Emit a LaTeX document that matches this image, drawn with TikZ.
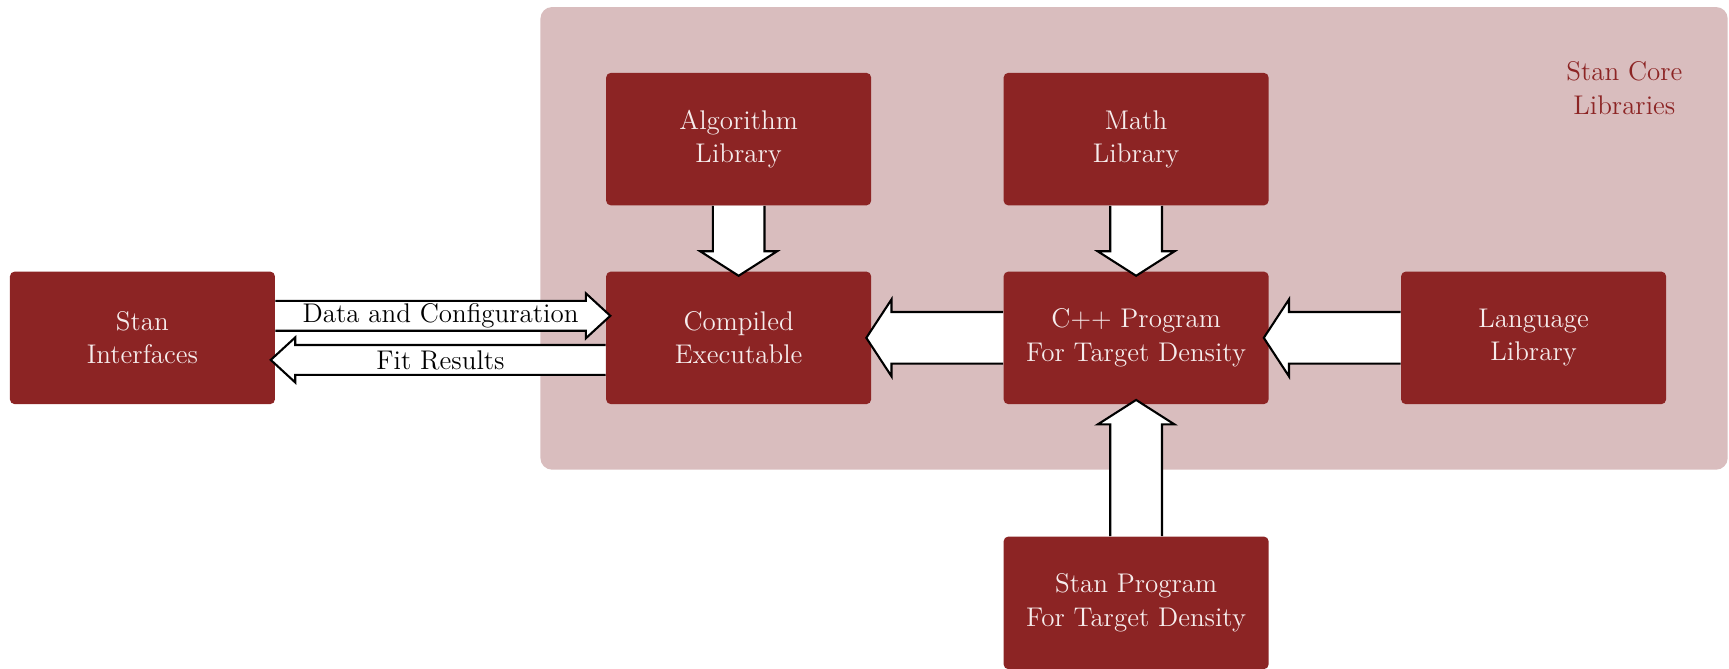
\documentclass[tikz,border=0pt]{standalone}
\usetikzlibrary{calc}
\definecolor{boxred}{HTML}{8C2424}
\definecolor{bgpink}{HTML}{D9BDBE}
\definecolor{boxtext}{HTML}{F6ECEC}
\tikzset{
 box/.style={draw=none, fill=boxred, rounded corners=2pt, minimum width=4cm, minimum height=2cm, align=center, text=boxtext, font=\fontsize{11.6}{14.3}\selectfont, inner sep=0pt},
 fat/.style={fill=white, draw=black, line width=0.9pt, line join=miter},
 lbl/.style={font=\fontsize{11.6}{14.3}\selectfont, inner sep=0pt, text=black},
 corelbl/.style={font=\fontsize{11.6}{14.3}\selectfont, inner sep=0pt, text=boxred, align=center}
}
\newcommand\fatdown[5]{\filldraw[fat] ($(#1)+(-#3,0)$) -- ($(#2)+(-#3,#5)$) -- ($(#2)+(-#4,#5)$) -- (#2) -- ($(#2)+(#4,#5)$) -- ($(#2)+(#3,#5)$) -- ($(#1)+(#3,0)$);}
\newcommand\fatup[5]{\filldraw[fat] ($(#1)+(-#3,0)$) -- ($(#2)+(-#3,-#5)$) -- ($(#2)+(-#4,-#5)$) -- (#2) -- ($(#2)+(#4,-#5)$) -- ($(#2)+(#3,-#5)$) -- ($(#1)+(#3,0)$);}
\newcommand\fatleft[5]{\filldraw[fat] ($(#1)+(0,#3)$) -- ($(#2)+(#5,#3)$) -- ($(#2)+(#5,#4)$) -- (#2) -- ($(#2)+(#5,-#4)$) -- ($(#2)+(#5,-#3)$) -- ($(#1)+(0,-#3)$);}
\newcommand\fatright[5]{\filldraw[fat] ($(#1)+(0,#3)$) -- ($(#2)+(-#5,#3)$) -- ($(#2)+(-#5,#4)$) -- (#2) -- ($(#2)+(-#5,-#4)$) -- ($(#2)+(-#5,-#3)$) -- ($(#1)+(0,-#3)$);}
\begin{document}
\begin{tikzpicture}
\useasboundingbox (0,0) rectangle (26.1,-10.084);
\fill[bgpink, rounded corners=5pt] (8.158,-0.106) rectangle (26.08,-7.09);
\node[corelbl] (core) at (24.52,-1.33) {Stan Core\\Libraries};
\node[box] (int)  at (2.15,-5.1)  {Stan\\Interfaces};
\node[box] (alg)  at (11.15,-2.1) {Algorithm\\Library};
\node[box] (comp) at (11.15,-5.1) {Compiled\\Executable};
\node[box] (math) at (17.15,-2.1) {Math\\Library};
\node[box] (cpp)  at (17.15,-5.1) {C++ Program\\For Target Density};
\node[box] (lang) at (23.15,-5.1) {Language\\Library};
\node[box] (prog) at (17.15,-9.1) {Stan Program\\For Target Density};
% tips and starts
\coordinate (t1) at ($(comp.north)+(0,-0.07)$);
\coordinate (t2) at ($(cpp.north)+(0,-0.07)$);
\coordinate (t3) at ($(cpp.south)+(0,0.07)$);
\coordinate (t4) at ($(comp.east)+(-0.08,0)$);
\coordinate (t5) at ($(cpp.east)+(-0.08,0)$);
\coordinate (s6) at ($(int.east)+(0,0.333)$);
\coordinate (t6) at ($(comp.west)+(0.07,0.333)$);
\coordinate (s7) at ($(comp.west)+(0,-0.333)$);
\coordinate (t7) at ($(int.east)+(-0.07,-0.333)$);
\fatdown{alg.south}{t1}{0.39}{0.58}{0.37}
\fatdown{math.south}{t2}{0.39}{0.58}{0.37}
\fatup{prog.north}{t3}{0.39}{0.58}{0.37}
\fatleft{cpp.west}{t4}{0.39}{0.58}{0.38}
\fatleft{lang.west}{t5}{0.39}{0.58}{0.38}
\fatright{s6}{t6}{0.225}{0.34}{0.37}
\fatleft{s7}{t7}{0.225}{0.34}{0.37}
\node[lbl] (dlab) at ($(int.east)!0.5!(comp.west)+(0,0.333)$) {Data and Configuration};
\node[lbl] (flab) at ($(int.east)!0.5!(comp.west)+(0,-0.333)$) {Fit Results};
\end{tikzpicture}
\end{document}
